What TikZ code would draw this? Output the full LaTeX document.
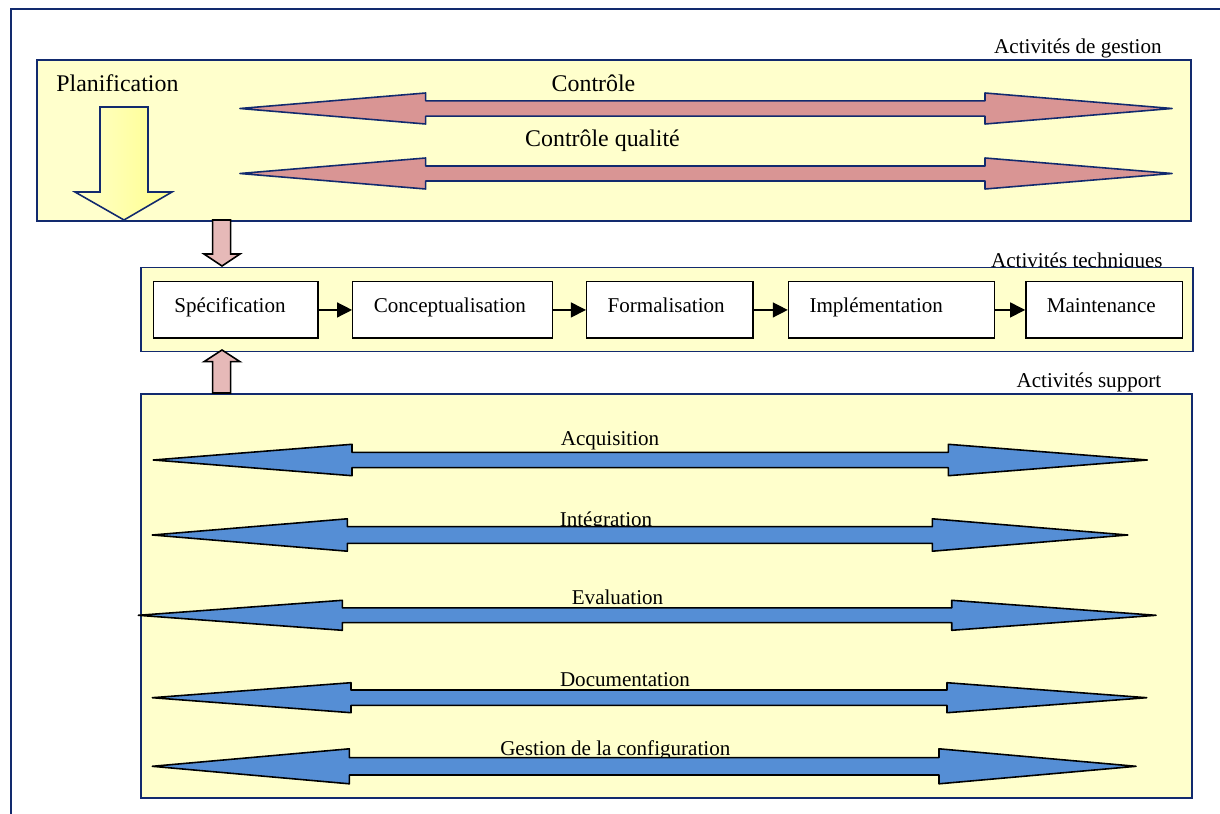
\documentclass[tikz,border=0pt]{standalone}
\usepackage{fontspec}
\setmainfont{Liberation Serif}
\usepackage{tikz}
\usetikzlibrary{arrows.meta,positioning}
\definecolor{mynavy}{RGB}{18,42,110}
\definecolor{mycream}{RGB}{255,255,204}
\definecolor{mypink}{RGB}{217,149,148}
\definecolor{mylightpink}{RGB}{230,185,184}
\definecolor{myblue}{RGB}{85,142,213}
\definecolor{myyellow}{RGB}{255,255,140}
\tikzstyle{zone}=[draw=mynavy,fill=mycream,line width=1pt,rectangle,inner sep=0pt,anchor=north west]
\tikzstyle{taskbox}=[draw,fill=white,line width=0.8pt,minimum height=1.13cm,inner xsep=0.42cm,align=left,text height=8pt,text depth=5pt,font=\fontsize{12}{14}\selectfont]
\tikzstyle{flow}=[-{Triangle[length=0.3cm,width=0.3cm]},line width=0.8pt]
\tikzstyle{lbl}=[font=\fontsize{12}{14}\selectfont,inner sep=0pt,anchor=base]
\tikzstyle{biglbl}=[font=\fontsize{13.6}{16}\selectfont,inner sep=0pt,anchor=base]
\tikzstyle{ctrlarrow}=[draw=mynavy,fill=mypink,line width=0.9pt,line join=round]
\tikzstyle{suparrow}=[draw=black,fill=myblue,line width=0.9pt,line join=round]
\tikzstyle{linkarrow}=[draw=black,fill=mylightpink,line width=0.9pt]
% style, y, left tip, left head, right head, right tip, head half, shaft half
\newcommand{\dblarrow}[8]{\path[#1] (#3,#2) -- (#4,#2-#7) -- (#4,#2-#8) -- (#5,#2-#8) -- (#5,#2-#7) -- (#6,#2) -- (#5,#2+#7) -- (#5,#2+#8) -- (#4,#2+#8) -- (#4,#2+#7) -- cycle;}

\begin{document}
\begin{tikzpicture}[x=0.02cm,y=-0.02cm]
\useasboundingbox (0,0) rectangle (1220,814);
\draw[mynavy,line width=1.3pt] (11,840) -- (11,9) -- (1240,9);

\node[lbl,anchor=base east] (tgest) at (1162,53.3) {Activités de gestion};
\node[lbl,anchor=base east] (ttech) at (1163,267) {Activités techniques};
\node[lbl,anchor=base east] (tsupp) at (1161.6,387) {Activités support};

\node[zone,minimum width=23.08cm,minimum height=3.22cm] (gestion) at (36,59) {};
\node[zone,minimum width=21.04cm,minimum height=1.68cm] (tech) at (140,266.7) {};
\node[zone,minimum width=21.02cm,minimum height=8.08cm] (support) at (140,393) {};

% gestion
\node[biglbl,anchor=base west] (plan) at (56,91.7) {Planification};
\path[draw=mynavy,line width=0.9pt,left color=myyellow!45!white,right color=myyellow] (100,107) -- (148,107) -- (148,192) -- (172,192) -- (124,220) -- (75,192) -- (100,192) -- cycle;
\node[biglbl] (ctrl) at (593.5,91.7) {Contrôle};
\node[biglbl] (ctrlq) at (602.5,146.7) {Contrôle qualité};
\dblarrow{ctrlarrow}{108.5}{240}{425.7}{985}{1172}{15.5}{7.7}
\dblarrow{ctrlarrow}{173.5}{240}{425.7}{985}{1172}{15.5}{7.5}

% links
\path[linkarrow] (212.7,220) -- (230.7,220) -- (230.7,254) -- (240,254) -- (222,266) -- (204,254) -- (212.7,254) -- cycle;
\path[linkarrow] (212.7,393) -- (230.7,393) -- (230.7,361.7) -- (240,361.7) -- (222,350) -- (204,361.7) -- (212.7,361.7) -- cycle;

% techniques
\node[taskbox,text width=2.45cm,anchor=north west] (spec) at (152.7,281) {Spécification};
\node[taskbox,text width=3.15cm,right=0.67cm of spec] (conc) {Conceptualisation};
\node[taskbox,text width=2.49cm,right=0.66cm of conc] (form) {Formalisation};
\node[taskbox,text width=3.28cm,right=0.68cm of form] (impl) {Implémentation};
\node[taskbox,text width=2.29cm,right=0.60cm of impl] (maint) {Maintenance};
\draw[flow] (spec) -- (conc);
\draw[flow] (conc) -- (form);
\draw[flow] (form) -- (impl);
\draw[flow] (impl) -- (maint);

% support
\node[lbl] (acq) at (610,445) {Acquisition};
\node[lbl] (integ) at (606,526) {Intégration};
\node[lbl] (eval) at (617.5,604) {Evaluation};
\node[lbl] (doc) at (625,686.7) {Documentation};
\node[lbl] (conf) at (615.3,755.7) {Gestion de la configuration};
\dblarrow{suparrow}{460}{153.3}{352}{948.3}{1147.3}{15.7}{7.7}
\dblarrow{suparrow}{535}{152.3}{347.3}{932.3}{1127.7}{16.2}{8.3}
\dblarrow{suparrow}{615.3}{138.3}{342.3}{951.7}{1156}{15}{7.4}
\dblarrow{suparrow}{697.7}{152.3}{351}{947}{1146.7}{15}{7.7}
\dblarrow{suparrow}{766.3}{152.3}{349.3}{939}{1136}{17.5}{8.7}
\end{tikzpicture}
\end{document}
